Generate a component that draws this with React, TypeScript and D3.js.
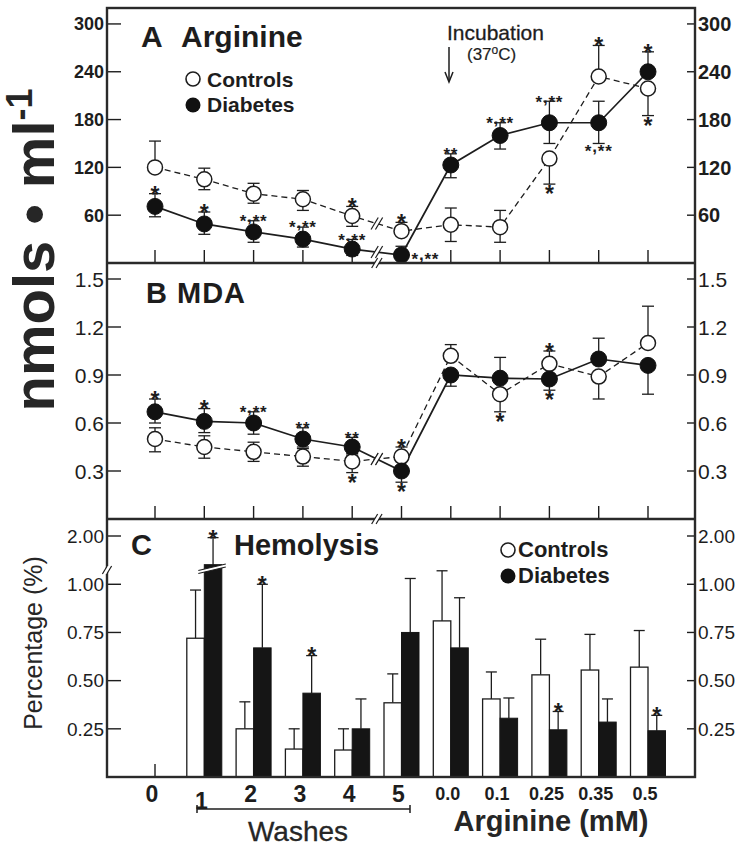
import React from "react";
import * as d3 from "d3";

// ---------- DATA ----------
const categories = ["0", "1", "2", "3", "4", "5", "0.0", "0.1", "0.25", "0.35", "0.5"];

// Panel A: Arginine (nmols/ml)
const argControls = [120, 105, 87, 80, 59, 40, 48, 45, 131, 234, 219];
const argControlsErrUp = [33, 14, 13, 11, 12, 11, 21, 21, 0, 39, 0];
const argControlsErrDown = [0, 13, 12, 14, 13, 0, 21, 19, 32, 0, 34];
const argControlsSig = ["", "", "", "", "*", "*", "", "", "*", "*", "*"];
const argControlsSigPos = ["", "", "", "", "above", "above", "", "", "below", "above", "below"];
const argDiabetes = [71, 49, 39, 30, 17.5, 10, 123, 160, 176, 176, 240];
const argDiabetesErrUp = [16, 15, 14, 15, 12, 11, 14, 16, 27, 27, 25];
const argDiabetesErrDown = [13, 13, 13, 10, 8, 0, 16, 17, 26, 26, 0];
const argDiabetesSig = ["*", "*", "*,**", "*,**", "*,**", "*,**", "**", "*,**", "*,**", "*,**", "*"];
const argDiabetesSigPos = ["above", "above", "above", "above", "above", "right", "above", "above", "above", "below", "above"];
const argTicks = [60, 120, 180, 240, 300];

// Panel B: MDA (nmols/ml)
const mdaControls = [0.5, 0.45, 0.42, 0.39, 0.36, 0.39, 1.02, 0.78, 0.97, 0.89, 1.1];
const mdaControlsErrUp = [0.07, 0.07, 0.06, 0.05, 0.05, 0.06, 0.07, 0, 0.08, 0, 0.23];
const mdaControlsErrDown = [0.08, 0.07, 0.06, 0.06, 0.07, 0, 0, 0.11, 0, 0.14, 0];
const mdaControlsSig = ["", "", "", "", "*", "*", "", "*", "*", "", ""];
const mdaControlsSigPos = ["", "", "", "", "below", "above", "", "below", "above", "", ""];
const mdaDiabetes = [0.67, 0.61, 0.6, 0.5, 0.45, 0.3, 0.9, 0.88, 0.875, 1.0, 0.96];
const mdaDiabetesErrUp = [0.08, 0.08, 0.07, 0.07, 0.06, 0, 0, 0.13, 0, 0.13, 0];
const mdaDiabetesErrDown = [0.07, 0.07, 0.07, 0.05, 0.05, 0.07, 0.07, 0, 0.07, 0, 0.18];
const mdaDiabetesSig = ["*", "*", "*,**", "**", "**", "*", "", "", "*", "", ""];
const mdaDiabetesSigPos = ["above", "above", "above", "above", "above", "below", "", "", "below", "", ""];
const mdaTicks = [0.3, 0.6, 0.9, 1.2, 1.5];

// Panel C: Hemolysis (%)
const hemoControls = [0, 0.72, 0.25, 0.145, 0.14, 0.385, 0.81, 0.405, 0.53, 0.555, 0.57];
const hemoControlsErr = [0, 0.25, 0.14, 0.105, 0.11, 0.15, 0.26, 0.14, 0.185, 0.185, 0.19];
const hemoDiabetes = [0, 1.11, 0.67, 0.435, 0.25, 0.75, 0.67, 0.305, 0.245, 0.285, 0.24];
const hemoDiabetesErr = [0, 0.84, 0.33, 0.195, 0.155, 0.28, 0.26, 0.105, 0.095, 0.12, 0.08];
const hemoDiabetesSig = ["", "*", "*", "*", "", "", "", "", "*", "", "*"];
const hemoTicks = [0.25, 0.5, 0.75, 1.0, 2.0];

// ---------- LAYOUT ----------
const W = 740;
const H = 846;
const L = 107;
const R = 695;
const T = 8;
const B = 777;
const yAB = 263;
const yBC = 519;
const FONT = "'Liberation Sans', Arial, Helvetica, sans-serif";
const INK = "#1d1d1d";

const x = d3.scalePoint<string>().domain(categories).range([155, 648]);
const yA = d3.scaleLinear().domain([0, 320]).range([yAB, T]);
const yB = d3.scaleLinear().domain([0, 1.6]).range([yBC, yAB]);
const yC = d3.scaleLinear().domain([0, 1.1, 2.0]).range([B, 565, 536]);

const px = (i: number) => x(categories[i]) as number;

function BreakMark({ cx, cy, h = 6 }: { cx: number; cy: number; h?: number }) {
  const dx = h * 0.6;
  const g = 2.2;
  return (
    <g>
      <polygon
        points={`${cx - dx - g},${cy + h} ${cx + dx - g},${cy - h} ${cx + dx + g},${cy - h} ${cx - dx + g},${cy + h}`}
        fill="#fff"
      />
      <line x1={cx - dx - g} y1={cy + h} x2={cx + dx - g} y2={cy - h} stroke={INK} strokeWidth={1.2} />
      <line x1={cx - dx + g} y1={cy + h} x2={cx + dx + g} y2={cy - h} stroke={INK} strokeWidth={1.2} />
    </g>
  );
}

function Sig({ cx, yTop, yBot, yMid, label, pos }: { cx: number; yTop: number; yBot: number; yMid: number; label: string; pos: string }) {
  if (!label) return null;
  const big = label === "*";
  const f = big ? 23 : 17;
  const ls = big ? 0 : 0.8;
  let yy = 0;
  let xx = cx;
  let anchor: "middle" | "start" = "middle";
  if (pos === "above") yy = yTop - 1 + 0.43 * f;
  else if (pos === "below") yy = yBot + 1.5 + 0.73 * f;
  else {
    yy = yMid + 0.58 * f;
    xx = cx + 10;
    anchor = "start";
  }
  const parts = label.split(",");
  return (
    <text x={xx} y={yy} fontSize={f} fontWeight="bold" fontFamily={FONT} fill={INK} textAnchor={anchor} letterSpacing={ls}>
      {parts.length === 1 ? (
        label
      ) : (
        <>
          {parts[0]}
          <tspan dy={-5}>,</tspan>
          <tspan dy={5}>{parts[1]}</tspan>
        </>
      )}
    </text>
  );
}

function LinePanel(props: {
  y: d3.ScaleLinear<number, number>;
  c: number[]; cUp: number[]; cDown: number[]; cSig: string[]; cPos: string[];
  d: number[]; dUp: number[]; dDown: number[]; dSig: string[]; dPos: string[];
}) {
  const { y, c, cUp, cDown, cSig, cPos, d, dUp, dDown, dSig, dPos } = props;
  const line = d3
    .line<number>()
    .x((_, i) => px(i))
    .y((v) => y(v));
  const rC = 7.5;
  const rD = 8;
  const errBars = (vals: number[], up: number[], down: number[], key: string) =>
    vals.map((v, i) => {
      const cx = px(i);
      const els: React.ReactNode[] = [];
      if (up[i] > 0) {
        const yt = y(v + up[i]);
        els.push(<line key={key + "u" + i} x1={cx} x2={cx} y1={y(v)} y2={yt} stroke={INK} strokeWidth={1.3} />);
        els.push(<line key={key + "uc" + i} x1={cx - 6} x2={cx + 6} y1={yt} y2={yt} stroke={INK} strokeWidth={1.3} />);
      }
      if (down[i] > 0) {
        const yb = y(v - down[i]);
        els.push(<line key={key + "d" + i} x1={cx} x2={cx} y1={y(v)} y2={yb} stroke={INK} strokeWidth={1.3} />);
        els.push(<line key={key + "dc" + i} x1={cx - 6} x2={cx + 6} y1={yb} y2={yb} stroke={INK} strokeWidth={1.3} />);
      }
      return els;
    });
  const mid = (vals: number[]) => ({ cx: (px(4) + px(5)) / 2, cy: (y(vals[4]) + y(vals[5])) / 2 });
  const mc = mid(c);
  const md = mid(d);
  const sigs = (vals: number[], up: number[], down: number[], sig: string[], pos: string[], r: number, key: string) =>
    vals.map((v, i) => (
      <Sig
        key={key + i}
        cx={px(i)}
        yTop={up[i] > 0 ? y(v + up[i]) : y(v) - r}
        yBot={down[i] > 0 ? y(v - down[i]) : y(v) + r}
        yMid={y(v)}
        label={sig[i]}
        pos={pos[i]}
      />
    ));
  return (
    <g>
      <path d={line(c) || ""} fill="none" stroke={INK} strokeWidth={1.3} strokeDasharray="6,4" />
      <path d={line(d) || ""} fill="none" stroke={INK} strokeWidth={1.7} />
      <BreakMark cx={mc.cx} cy={mc.cy} />
      <BreakMark cx={md.cx} cy={md.cy} />
      {errBars(c, cUp, cDown, "c")}
      {errBars(d, dUp, dDown, "d")}
      {c.map((v, i) => (
        <circle key={"cc" + i} cx={px(i)} cy={y(v)} r={rC} fill="#fff" stroke={INK} strokeWidth={1.5} />
      ))}
      {d.map((v, i) => (
        <circle key={"dc" + i} cx={px(i)} cy={y(v)} r={rD} fill="#111" stroke="#111" strokeWidth={1} />
      ))}
      {sigs(c, cUp, cDown, cSig, cPos, rC, "cs")}
      {sigs(d, dUp, dDown, dSig, dPos, rD, "ds")}
    </g>
  );
}

function YAxis({ y, ticks, fmt, bold, fsL, fsR }: { y: (v: number) => number; ticks: number[]; fmt: (v: number) => string; bold: boolean; fsL: number; fsR: number }) {
  return (
    <g fontFamily={FONT} fill={INK}>
      {ticks.map((t) => (
        <g key={t}>
          <line x1={L} x2={L + 14} y1={y(t)} y2={y(t)} stroke={INK} strokeWidth={1.4} />
          <line x1={R - 8} x2={R} y1={y(t)} y2={y(t)} stroke={INK} strokeWidth={1.4} />
          <text x={104} y={y(t)} dy="0.36em" textAnchor="end" fontSize={fsL} fontWeight={bold ? "bold" : "normal"}>
            {fmt(t)}
          </text>
          <text x={698} y={y(t)} dy="0.36em" textAnchor="start" fontSize={fsR} fontWeight={bold ? "bold" : "normal"}>
            {fmt(t)}
          </text>
        </g>
      ))}
    </g>
  );
}

function BottomTicks({ yBase }: { yBase: number }) {
  return (
    <g>
      {categories.map((c) => (
        <line key={c} x1={x(c)} x2={x(c)} y1={yBase} y2={yBase - 13} stroke={INK} strokeWidth={1.4} />
      ))}
    </g>
  );
}

export default function App() {
  const bw = 17.5;
  const fmt0 = d3.format("d");
  const fmt1 = d3.format(".1f");
  const fmt2 = d3.format(".2f");
  const breakX = (px(4) + px(5)) / 2;
  const bar1x = px(1);
  const barBreakY = 569;
  return (
    <svg width={W} height={H} style={{ position: "absolute", left: 0, top: 0, background: "#fff" }}>
      <rect x={0} y={0} width={W} height={H} fill="#fff" />

      {/* Y axis big label */}
      <text
        transform="translate(54,250) rotate(-90)"
        textAnchor="middle"
        fontFamily={FONT}
        fontWeight="bold"
        fontSize={58}
        fill="#262626"
      >
        nmols • ml<tspan dy={-22} fontSize={36}>-1</tspan>
      </text>
      <text transform="translate(42,643) rotate(-90)" textAnchor="middle" fontFamily={FONT} fontSize={25} fill="#262626">
        Percentage (%)
      </text>

      {/* axes & ticks */}
      <YAxis y={yA} ticks={argTicks} fmt={fmt0} bold={true} fsL={18} fsR={20} />
      <YAxis y={yB} ticks={mdaTicks} fmt={fmt1} bold={false} fsL={21} fsR={21} />
      <YAxis y={yC} ticks={hemoTicks} fmt={fmt2} bold={false} fsL={19} fsR={19} />
      <BottomTicks yBase={yAB} />
      <BottomTicks yBase={yBC} />
      <BottomTicks yBase={B} />

      {/* Panel A */}
      <LinePanel
        y={yA}
        c={argControls} cUp={argControlsErrUp} cDown={argControlsErrDown} cSig={argControlsSig} cPos={argControlsSigPos}
        d={argDiabetes} dUp={argDiabetesErrUp} dDown={argDiabetesErrDown} dSig={argDiabetesSig} dPos={argDiabetesSigPos}
      />
      {/* Panel B */}
      <LinePanel
        y={yB}
        c={mdaControls} cUp={mdaControlsErrUp} cDown={mdaControlsErrDown} cSig={mdaControlsSig} cPos={mdaControlsSigPos}
        d={mdaDiabetes} dUp={mdaDiabetesErrUp} dDown={mdaDiabetesErrDown} dSig={mdaDiabetesSig} dPos={mdaDiabetesSigPos}
      />

      {/* Panel C bars */}
      <g>
        {categories.map((c, i) => {
          const cx = px(i);
          const els: React.ReactNode[] = [];
          if (hemoControls[i] > 0) {
            const v = hemoControls[i];
            const e = hemoControlsErr[i];
            const bx = cx - bw / 2;
            els.push(<line key={"ce" + i} x1={bx} x2={bx} y1={yC(v)} y2={yC(v + e)} stroke={INK} strokeWidth={1.3} />);
            els.push(<line key={"cec" + i} x1={bx - 5.5} x2={bx + 5.5} y1={yC(v + e)} y2={yC(v + e)} stroke={INK} strokeWidth={1.3} />);
            els.push(<rect key={"cb" + i} x={cx - bw} y={yC(v)} width={bw} height={B - yC(v)} fill="#fff" stroke={INK} strokeWidth={1.3} />);
          }
          if (hemoDiabetes[i] > 0) {
            const v = hemoDiabetes[i];
            const e = hemoDiabetesErr[i];
            const bx = cx + bw / 2;
            els.push(<line key={"de" + i} x1={bx} x2={bx} y1={yC(v)} y2={yC(v + e)} stroke={INK} strokeWidth={1.3} />);
            els.push(<line key={"dec" + i} x1={bx - 5.5} x2={bx + 5.5} y1={yC(v + e)} y2={yC(v + e)} stroke={INK} strokeWidth={1.3} />);
            els.push(<rect key={"db" + i} x={cx} y={yC(v)} width={bw} height={B - yC(v)} fill="#151515" stroke="#151515" strokeWidth={1} />);
            els.push(
              <Sig key={"ds" + i} cx={bx} yTop={yC(v + e)} yBot={0} yMid={0} label={hemoDiabetesSig[i]} pos="above" />
            );
          }
          return <g key={c}>{els}</g>;
        })}
        {/* break on tall bar */}
        <g>
          <polygon
            points={`${bar1x - 4},${barBreakY + 4} ${bar1x + bw + 4},${barBreakY - 2} ${bar1x + bw + 4},${barBreakY - 5} ${bar1x - 4},${barBreakY + 1}`}
            fill="#fff"
          />
          <line x1={bar1x - 6} y1={barBreakY + 4.5} x2={bar1x + bw + 4} y2={barBreakY - 2} stroke={INK} strokeWidth={1.1} />
          <line x1={bar1x - 6} y1={barBreakY + 1.5} x2={bar1x + bw + 4} y2={barBreakY - 5} stroke={INK} strokeWidth={1.1} />
        </g>
      </g>

      {/* frame */}
      <rect x={L} y={T} width={R - L} height={B - T} fill="none" stroke="#2a2a2a" strokeWidth={2.4} />
      <line x1={L} x2={R} y1={yAB} y2={yAB} stroke="#2a2a2a" strokeWidth={2.4} />
      <line x1={L} x2={R} y1={yBC} y2={yBC} stroke="#2a2a2a" strokeWidth={2.4} />
      <BreakMark cx={breakX} cy={yAB} h={5} />
      <BreakMark cx={breakX} cy={yBC} h={5} />
      <BreakMark cx={L} cy={570} h={4} />

      {/* titles */}
      <g fontFamily={FONT} fill={INK} fontWeight="bold">
        <text x={141} y={47} fontSize={30}>A</text>
        <text x={181} y={47} fontSize={30}>Arginine</text>
        <text x={146} y={303} fontSize={29} letterSpacing={1}>B MDA</text>
        <text x={131} y={555} fontSize={29}>C</text>
        <text x={234} y={555} fontSize={29}>Hemolysis</text>
      </g>

      {/* legends */}
      <g fontFamily={FONT} fill={INK} fontWeight="bold">
        <circle cx={193} cy={79} r={7} fill="#fff" stroke={INK} strokeWidth={1.6} />
        <circle cx={193} cy={105} r={7.5} fill="#111" />
        <text x={207} y={87} fontSize={21}>Controls</text>
        <text x={207} y={112} fontSize={21}>Diabetes</text>

        <circle cx={508} cy={550} r={7} fill="#fff" stroke={INK} strokeWidth={1.6} />
        <circle cx={508} cy={576} r={7.5} fill="#111" />
        <text x={518} y={557} fontSize={22}>Controls</text>
        <text x={518} y={583} fontSize={22}>Diabetes</text>
      </g>

      {/* incubation annotation */}
      <g fontFamily={FONT} fill={INK}>
        <text x={447} y={40} fontSize={21} stroke={INK} strokeWidth={0.3}>Incubation</text>
        <text x={467} y={60} fontSize={17} stroke={INK} strokeWidth={0.2}>
          (37<tspan dy={-6} fontSize={12}>o</tspan>
          <tspan dy={6}>C)</tspan>
        </text>
        <line x1={449} x2={449} y1={47} y2={81} stroke={INK} strokeWidth={1.5} />
        <polyline points="445,72 449,82 453,72" fill="none" stroke={INK} strokeWidth={1.5} />
      </g>

      {/* x labels */}
      <g fontFamily={FONT} fill={INK} fontWeight="bold" textAnchor="middle">
        {categories.map((c, i) => (
          <text key={c} x={px(i) - 3} y={i < 6 ? (i === 1 ? 809 : 802) : 800} fontSize={i < 6 ? 23 : 18}>
            {c}
          </text>
        ))}
      </g>
      <line x1={197} x2={410} y1={809} y2={809} stroke={INK} strokeWidth={1.5} />
      <line x1={197} x2={197} y1={805} y2={813} stroke={INK} strokeWidth={1.5} />
      <line x1={410} x2={410} y1={805} y2={813} stroke={INK} strokeWidth={1.5} />
      <text x={298} y={841} fontFamily={FONT} fontSize={28} fill="#262626" textAnchor="middle" stroke="#262626" strokeWidth={0.3}>
        Washes
      </text>
      <text x={551} y={831} fontFamily={FONT} fontSize={29} fontWeight="bold" fill="#262626" textAnchor="middle">
        Arginine (mM)
      </text>
    </svg>
  );
}
